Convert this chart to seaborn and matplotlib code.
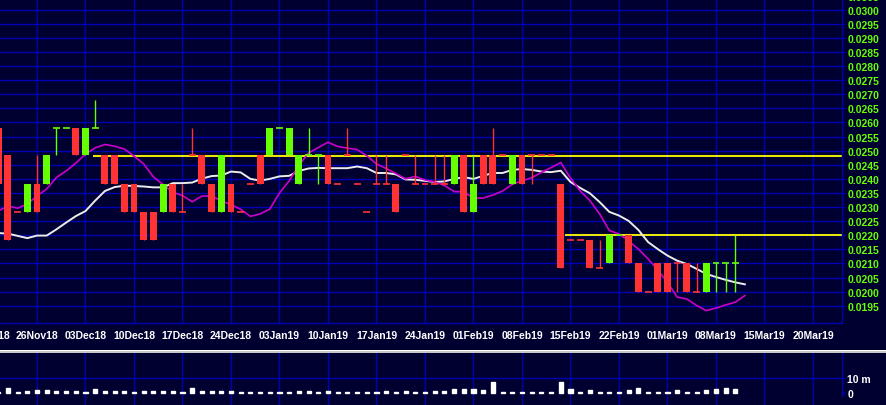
import numpy as np
import matplotlib
matplotlib.use("Agg")
import matplotlib.pyplot as plt
import seaborn as sns
from matplotlib.patches import Rectangle

# ---------------- data ----------------
day = list(range(-1, 76))
opens = [0.02582, 0.02483, 0.02284, 0.02284, 0.02383, 0.02383, 0.02582, 0.02582, 0.02582, 0.02483,
         0.02582, 0.02483, 0.02483, 0.02383, 0.02383, 0.02284, 0.02284, 0.02284, 0.02383, 0.02284,
         0.02483, 0.02483, 0.02383, 0.02284, 0.02383, 0.02284, 0.02383, 0.02483, 0.02483, 0.02582,
         0.02483, 0.02383, 0.02483, 0.02483, 0.02483, 0.02383, 0.02483, 0.02383, 0.02284, 0.02383,
         0.02383, 0.02383, 0.02483, 0.02383, 0.02383, 0.02383, 0.02383, 0.02383, 0.02483, 0.02284,
         0.02483, 0.02483, 0.02483, 0.02383, 0.02483, 0.02483, 0.02483, 0.02483, 0.02383, 0.02185,
         0.02185, 0.02185, 0.02085, 0.02100, 0.02200, 0.02200, 0.02100, 0.02000, 0.02100, 0.02100,
         0.02100, 0.02100, 0.02000, 0.02000, 0.02100, 0.02100, 0.02100]
highs = [0.02582, 0.02483, 0.02284, 0.02383, 0.02483, 0.02483, 0.02582, 0.02582, 0.02582, 0.02582,
         0.02681, 0.02483, 0.02483, 0.02383, 0.02383, 0.02284, 0.02284, 0.02383, 0.02383, 0.02383,
         0.02582, 0.02483, 0.02383, 0.02483, 0.02383, 0.02284, 0.02383, 0.02483, 0.02582, 0.02582,
         0.02582, 0.02483, 0.02582, 0.02483, 0.02483, 0.02383, 0.02582, 0.02383, 0.02284, 0.02483,
         0.02483, 0.02383, 0.02483, 0.02483, 0.02383, 0.02483, 0.02483, 0.02483, 0.02483, 0.02483,
         0.02483, 0.02582, 0.02483, 0.02483, 0.02483, 0.02483, 0.02483, 0.02483, 0.02383, 0.02185,
         0.02185, 0.02185, 0.02185, 0.02200, 0.02200, 0.02200, 0.02100, 0.02000, 0.02100, 0.02100,
         0.02100, 0.02100, 0.02100, 0.02100, 0.02100, 0.02100, 0.02200]
lows = [0.02383, 0.02185, 0.02284, 0.02284, 0.02284, 0.02383, 0.02483, 0.02582, 0.02483, 0.02483,
        0.02582, 0.02383, 0.02383, 0.02284, 0.02284, 0.02185, 0.02185, 0.02284, 0.02284, 0.02284,
        0.02483, 0.02383, 0.02284, 0.02284, 0.02284, 0.02284, 0.02383, 0.02383, 0.02483, 0.02582,
        0.02483, 0.02383, 0.02483, 0.02383, 0.02383, 0.02383, 0.02483, 0.02383, 0.02284, 0.02383,
        0.02383, 0.02284, 0.02483, 0.02383, 0.02383, 0.02383, 0.02383, 0.02383, 0.02284, 0.02284,
        0.02383, 0.02383, 0.02483, 0.02383, 0.02383, 0.02383, 0.02483, 0.02483, 0.02085, 0.02185,
        0.02185, 0.02085, 0.02085, 0.02100, 0.02200, 0.02100, 0.02000, 0.02000, 0.02000, 0.02000,
        0.02000, 0.02000, 0.02000, 0.02000, 0.02000, 0.02000, 0.02000]
closes = [0.02383, 0.02185, 0.02284, 0.02383, 0.02284, 0.02483, 0.02582, 0.02582, 0.02483, 0.02582,
          0.02582, 0.02383, 0.02383, 0.02284, 0.02284, 0.02185, 0.02185, 0.02383, 0.02284, 0.02284,
          0.02483, 0.02383, 0.02284, 0.02483, 0.02284, 0.02284, 0.02383, 0.02383, 0.02582, 0.02582,
          0.02582, 0.02483, 0.02483, 0.02483, 0.02383, 0.02383, 0.02483, 0.02383, 0.02284, 0.02383,
          0.02383, 0.02284, 0.02483, 0.02383, 0.02383, 0.02383, 0.02383, 0.02483, 0.02284, 0.02383,
          0.02383, 0.02383, 0.02483, 0.02483, 0.02383, 0.02483, 0.02483, 0.02483, 0.02085, 0.02185,
          0.02185, 0.02085, 0.02085, 0.02200, 0.02200, 0.02100, 0.02000, 0.02000, 0.02000, 0.02000,
          0.02100, 0.02000, 0.02000, 0.02100, 0.02100, 0.02100, 0.02100]
direction = ["dn", "dn", "dn", "up", "dn", "up", "up", "up", "dn", "up",
             "up", "dn", "dn", "dn", "dn", "dn", "dn", "up", "dn", "dn",
             "dn", "dn", "dn", "up", "dn", "dn", "dn", "dn", "up", "up",
             "up", "up", "up", "up", "dn", "dn", "dn", "dn", "dn", "dn",
             "dn", "dn", "dn", "dn", "dn", "dn", "dn", "up", "dn", "up",
             "dn", "dn", "dn", "up", "dn", "dn", "dn", "dn", "dn", "dn",
             "dn", "dn", "dn", "up", "up", "dn", "dn", "dn", "dn", "dn",
             "dn", "dn", "dn", "up", "up", "up", "up"]

volume_m = [0.5, 3.3, 0.45, 1.5, 1.8, 1.8, 1.1, 1.1, 1.1, 0.9,
            2.9, 1.5, 1.1, 1.1, 0.45, 1.1, 1.1, 1.1, 1.1, 0.45,
            3.6, 1.5, 1.3, 1.3, 1.1, 0.9, 0.45, 0.9, 0.9, 0.9,
            0.9, 1.3, 1.3, 0.45, 1.3, 0.9, 0.9, 0.9, 0.45, 0.9,
            1.3, 0.45, 1.3, 0.9, 0.45, 1.3, 1.3, 2.7, 2.7, 2.7,
            2.0, 7.1, 0.9, 0.9, 0.45, 0.9, 0.9, 0.9, 7.1, 2.9,
            0.7, 1.8, 0.9, 0.9, 0.9, 2.0, 3.6, 0.9, 0.9, 0.9,
            2.0, 0.9, 0.9, 2.0, 2.4, 3.6, 2.4]

ma_day = list(range(-1, 77))
ma_slow = [0.02208, 0.02206, 0.02198, 0.02190, 0.02199, 0.02199, 0.02221, 0.02245, 0.02268, 0.02286,
           0.02323, 0.02357, 0.02371, 0.02376, 0.02375, 0.02373, 0.02370, 0.02370, 0.02385, 0.02385,
           0.02387, 0.02401, 0.02410, 0.02412, 0.02426, 0.02423, 0.02400, 0.02394, 0.02400, 0.02409,
           0.02411, 0.02428, 0.02437, 0.02439, 0.02438, 0.02438, 0.02438, 0.02444, 0.02438, 0.02421,
           0.02421, 0.02416, 0.02398, 0.02397, 0.02393, 0.02389, 0.02391, 0.02400, 0.02406, 0.02400,
           0.02411, 0.02421, 0.02421, 0.02432, 0.02435, 0.02432, 0.02426, 0.02424, 0.02429, 0.02389,
           0.02368, 0.02349, 0.02318, 0.02283, 0.02270, 0.02251, 0.02219, 0.02176, 0.02151, 0.02128,
           0.02110, 0.02098, 0.02081, 0.02063, 0.02052, 0.02042, 0.02033, 0.02026]
ma_fast = [0.02286, 0.02304, 0.02296, 0.02311, 0.02340, 0.02364, 0.02405, 0.02428, 0.02456, 0.02488,
           0.02510, 0.02522, 0.02516, 0.02506, 0.02481, 0.02453, 0.02407, 0.02380, 0.02352, 0.02341,
           0.02319, 0.02339, 0.02340, 0.02322, 0.02309, 0.02292, 0.02267, 0.02276, 0.02293, 0.02350,
           0.02393, 0.02449, 0.02492, 0.02511, 0.02530, 0.02515, 0.02509, 0.02504, 0.02482, 0.02453,
           0.02437, 0.02419, 0.02400, 0.02409, 0.02396, 0.02389, 0.02377, 0.02355, 0.02354, 0.02332,
           0.02332, 0.02343, 0.02357, 0.02381, 0.02393, 0.02404, 0.02423, 0.02440, 0.02458, 0.02403,
           0.02357, 0.02323, 0.02276, 0.02217, 0.02205, 0.02180, 0.02151, 0.02116, 0.02077, 0.02033,
           0.01981, 0.01974, 0.01951, 0.01933, 0.01942, 0.01953, 0.01963, 0.01987]

date_ticks = [-2, 3, 8, 13, 18, 23, 28, 33, 38, 43, 48, 53, 58, 63, 68, 73, 78, 83]
date_labels = ["19Nov18", "26Nov18", "03Dec18", "10Dec18", "17Dec18", "24Dec18",
               "03Jan19", "10Jan19", "17Jan19", "24Jan19", "01Feb19", "08Feb19",
               "15Feb19", "22Feb19", "01Mar19", "08Mar19", "15Mar19", "20Mar19"]
price_ticks = [0.0195, 0.0200, 0.0205, 0.0210, 0.0215, 0.0220, 0.0225, 0.0230, 0.0235,
               0.0240, 0.0245, 0.0250, 0.0255, 0.0260, 0.0265, 0.0270, 0.0275, 0.0280,
               0.0285, 0.0290, 0.0295, 0.0300, 0.0305]
volume_ticks = [0, 10]
volume_tick_labels = ["0", "10 m"]

resistance_level, resistance_start = 0.02482, 8.8
support_level, support_start = 0.0220, 57.4

# ---------------- style ----------------
BG = "#000030"
GRID = "#0000b4"
RED = "#ff3333"
GREEN = "#66ff00"

sns.set_theme(style="dark")
plt.rcParams["font.family"] = ["Liberation Sans", "DejaVu Sans"]
plt.rcParams["font.weight"] = "bold"

W, H = 886, 406
fig = plt.figure(figsize=(W / 100, H / 100), dpi=100, facecolor=BG)

ax = fig.add_axes([-20 / W, (H - 324) / H, 862 / W, 334 / H])
axv = fig.add_axes([-20 / W, 0, 862 / W, (H - 354) / H])

XL = (-2.876, 85.99)

for a in (ax, axv):
    a.set_facecolor(BG)
    a.set_axisbelow(True)
    for s in ("top", "left"):
        a.spines[s].set_visible(False)
    a.spines["right"].set_color(GRID)
    a.spines["right"].set_linewidth(1)
    a.spines["bottom"].set_color(GRID)
    a.spines["bottom"].set_linewidth(1)
    a.grid(True, color=GRID, linewidth=1)

# reference lines
ax.hlines(resistance_level, resistance_start, XL[1], color="#ffff00", linewidth=1.3, zorder=2.5)
ax.hlines(support_level, support_start, XL[1], color="#ffff00", linewidth=1.3, zorder=2.5)

# moving averages
sns.lineplot(x=ma_day, y=ma_slow, ax=ax, color="#ececec", linewidth=1.4, zorder=3)
sns.lineplot(x=ma_day, y=ma_fast, ax=ax, color="#cc00cc", linewidth=1.2, zorder=3)

# candles
bw = 0.72
x = np.array(day, dtype=float)
o = np.array(opens); h = np.array(highs); l = np.array(lows); c = np.array(closes)
cols = np.array([GREEN if d == "up" else RED for d in direction])
ax.vlines(x, l, h, colors=cols, linewidth=1.0, zorder=4)
body = o != c
ax.bar(x[body], (c - o)[body], bottom=o[body], width=bw, color=cols[body],
       linewidth=0, zorder=5)
flat = ~body
ax.hlines(o[flat], x[flat] - bw / 2, x[flat] + bw / 2, colors=cols[flat], linewidth=1.2, zorder=5)

ax.set_xlim(*XL)
ax.set_ylim(0.018890, 0.030734)
ax.set_yticks(price_ticks)
ax.set_yticklabels([f"{t:.4f}" for t in price_ticks])
ax.yaxis.tick_right()
ax.tick_params(axis="y", which="both", right=True, left=False, length=2.2, width=1,
               color=GRID, labelcolor=GREEN, labelsize=7.5, pad=1.5)
ax.set_xticks(date_ticks)
ax.set_xticklabels(date_labels)
ax.tick_params(axis="x", length=0, labelcolor="white", labelsize=7.5, pad=5)
for t in ax.get_xticklabels() + ax.get_yticklabels():
    t.set_fontweight("bold")
ax.set_xlabel("")
ax.set_ylabel("")

# volume
sns.barplot(x=day, y=volume_m, native_scale=True, width=0.42, color="white",
            saturation=1, errorbar=None, ax=axv, zorder=3)
axv.set_xlim(*XL)
axv.set_ylim(-8, 26.667)
axv.set_xticks(date_ticks)
axv.set_xticklabels([])
axv.tick_params(axis="x", length=0)
axv.set_yticks(volume_ticks)
axv.set_yticklabels(volume_tick_labels)
axv.yaxis.tick_right()
axv.tick_params(axis="y", right=True, left=False, length=2.2, width=1, color=GRID,
                labelcolor="white", labelsize=7.5, pad=1.5)
for t in axv.get_yticklabels():
    t.set_fontweight("bold")
axv.get_ygridlines()[0].set_visible(False)
axv.spines["bottom"].set_visible(False)
axv.spines["right"].set_bounds(-2, 26.667)
axv.set_xlabel("")
axv.set_ylabel("")

# separator between panels
fig.add_artist(Rectangle((0, (H - 353.5) / H), 1, 3 / H, transform=fig.transFigure,
                         facecolor="#c8c8c8", edgecolor="none"))
fig.add_artist(Rectangle((0, (H - 352.0) / H), 1, 1.5 / H, transform=fig.transFigure,
                         facecolor="#ffffff", edgecolor="none"))

fig.savefig("out.png", dpi=100, facecolor=BG)
